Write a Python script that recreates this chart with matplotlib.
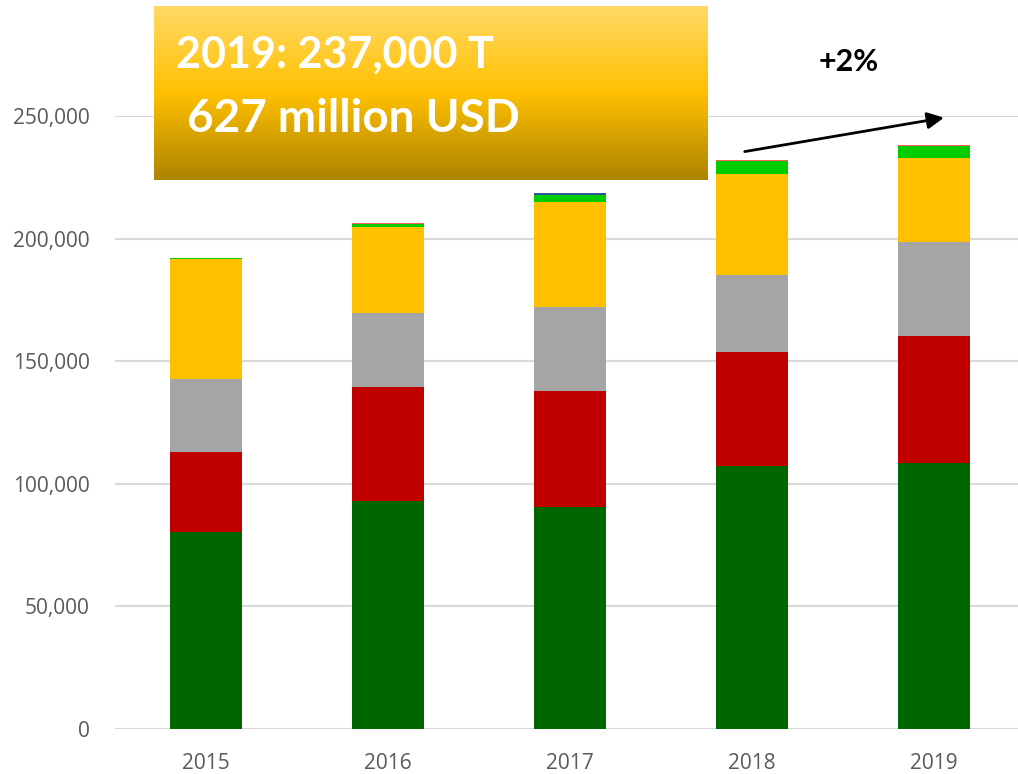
import numpy as np
import matplotlib
matplotlib.use('Agg')
import matplotlib.pyplot as plt
from matplotlib.ticker import FuncFormatter
from matplotlib.colors import LinearSegmentedColormap

# data (tonnes)
years = ['2015', '2016', '2017', '2018', '2019']
dark_green = [80300, 93000, 90500, 107300, 108500]
red = [32600, 46500, 47300, 46500, 51800]
gray = [29800, 30200, 34300, 31400, 38300]
yellow = [48900, 35100, 42800, 41200, 34300]
light_green = [300, 1300, 3000, 5200, 4700]
pink = [0, 300, 0, 400, 500]
blue = [0, 0, 600, 0, 0]

series = [dark_green, red, gray, yellow, light_green, pink, blue]
colors = ['#006600', '#C00000', '#A5A5A5', '#FFC000', '#00CC00', '#FF5B5B', '#2F5597']

plt.rcParams['font.family'] = ['Open Sans', 'DejaVu Sans']

fig = plt.figure(figsize=(10.18, 7.74), dpi=100)
ax = fig.add_axes([115/1018, 1 - 729/774, 910/1018, 613/774])

x = np.arange(len(years))
bottom = np.zeros(len(years))
for vals, c in zip(series, colors):
    ax.bar(x, vals, width=0.4, bottom=bottom, color=c, zorder=3)
    bottom += np.array(vals)

ax.set_xlim(-0.5, 4.5)
ax.set_ylim(0, 250000)
ax.set_yticks(np.arange(0, 250001, 50000))
ax.yaxis.set_major_formatter(FuncFormatter(lambda v, p: f'{int(v):,}'))
ax.set_xticks(x)
ax.set_xticklabels(years)
ax.grid(axis='y', color='#D9D9D9', linewidth=1.5, zorder=0)
for s in ax.spines.values():
    s.set_visible(False)
ax.tick_params(axis='both', length=0, labelsize=15, labelcolor='#595959')
ax.tick_params(axis='y', pad=18)
ax.tick_params(axis='x', pad=17)

# growth arrow 2018 -> 2019
ax.annotate('', xy=(4.07, 249500), xytext=(2.945, 235300),
            arrowprops=dict(arrowstyle='-|>', color='black', lw=2, mutation_scale=25),
            annotation_clip=False, zorder=5)
fig.text(849/1018, 1 - 62/774, '+2%', ha='center', va='center',
         fontsize=22, fontweight='bold', color='black', family=['Lato', 'DejaVu Sans'])

# gradient headline box
bax = fig.add_axes([154/1018, 1 - 180/774, 554/1018, 174/774])
cmap = LinearSegmentedColormap.from_list('gold', ['#FFD966', '#FFC000', '#AD8400'])
grad = np.linspace(0, 1, 256).reshape(-1, 1)
bax.imshow(grad, cmap=cmap, aspect='auto', extent=(0, 1, 0, 1), origin='upper')
bax.set_xlim(0, 1)
bax.set_ylim(0, 1)
bax.axis('off')
bax.text(22/554, 1 - 49/174, '2019: 237,000 T', ha='left', va='center', color='white',
         fontsize=31, fontweight='bold', family=['Lato', 'DejaVu Sans'])
bax.text(22/554, 1 - 113/174, ' 627 million USD', ha='left', va='center', color='white',
         fontsize=33, fontweight='bold', family=['Lato', 'DejaVu Sans'])

fig.savefig('out.png', dpi=100)
